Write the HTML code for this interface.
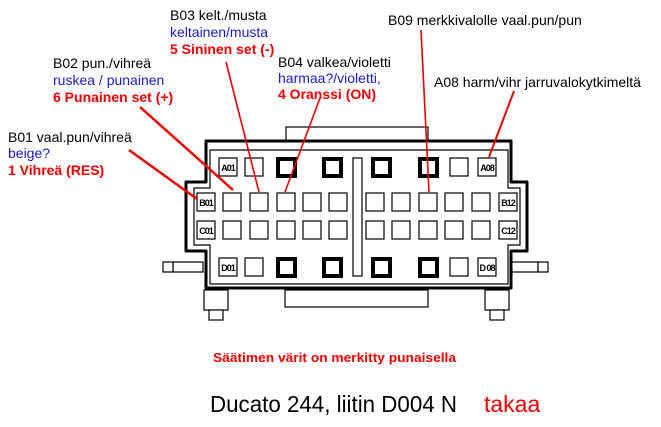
<!DOCTYPE html><html><head><style>body{margin:0;background:#fff}svg{display:block}</style></head><body>
<svg width="661" height="427" xmlns="http://www.w3.org/2000/svg" font-family="Liberation Sans, Arial, sans-serif">
<rect width="661" height="427" fill="#fff"/>
<g fill="#fff" stroke="#000" stroke-width="1.2">
<rect x="286" y="127" width="142" height="16"/>
<rect x="285" y="290" width="143" height="17"/>
<rect x="173" y="262" width="30" height="10"/><rect x="163" y="262" width="10" height="10"/>
<rect x="510" y="262" width="28" height="10"/><rect x="538" y="262" width="10" height="10"/>
<rect x="204" y="290" width="24" height="20"/><rect x="209" y="310" width="14" height="10"/>
<rect x="485" y="290" width="24" height="20"/><rect x="490" y="310" width="14" height="10"/>
</g>
<path d="M206,141 H511 V182 H527 V251 H511 V288 H206 V251 H186 V182 H206 Z" fill="#fff" stroke="#000" stroke-width="3" stroke-linejoin="round"/>
<path d="M210,150 H508 V188 H520 V245 H508 V284 H210 V245 H194 V188 H210 Z" fill="#fff" stroke="#000" stroke-width="1.2"/>
<rect x="353" y="158" width="9" height="118" fill="#fff" stroke="#000" stroke-width="1.2"/>
<g fill="#fff" stroke="#000" stroke-width="1.2">
<rect x="245" y="158" width="18" height="18"/><rect x="450" y="158" width="18" height="18"/>
<rect x="245" y="258" width="18" height="18"/><rect x="450" y="258" width="18" height="18"/>
<rect x="223" y="193" width="18" height="18"/><rect x="250" y="193" width="18" height="18"/><rect x="277" y="193" width="18" height="18"/><rect x="303" y="193" width="18" height="18"/><rect x="329" y="193" width="18" height="18"/>
<rect x="366" y="193" width="18" height="18"/><rect x="392" y="193" width="18" height="18"/><rect x="419" y="193" width="18" height="18"/><rect x="445" y="193" width="18" height="18"/><rect x="472" y="193" width="18" height="18"/>
<rect x="223" y="221" width="18" height="18"/><rect x="250" y="221" width="18" height="18"/><rect x="277" y="221" width="18" height="18"/><rect x="303" y="221" width="18" height="18"/><rect x="329" y="221" width="18" height="18"/>
<rect x="366" y="221" width="18" height="18"/><rect x="392" y="221" width="18" height="18"/><rect x="419" y="221" width="18" height="18"/><rect x="445" y="221" width="18" height="18"/><rect x="472" y="221" width="18" height="18"/>
</g>
<g fill="#fff" stroke="#000" stroke-width="4">
<rect x="278" y="159" width="17" height="17"/><rect x="324" y="159" width="17" height="17"/><rect x="373" y="159" width="17" height="17"/><rect x="420" y="159" width="17" height="17"/>
<rect x="278" y="259" width="17" height="17"/><rect x="324" y="259" width="17" height="17"/><rect x="373" y="259" width="17" height="17"/><rect x="420" y="259" width="17" height="17"/>
</g>
<g fill="#fff" stroke="#000" stroke-width="1.2">
<rect x="219" y="158" width="18" height="18"/><rect x="478" y="158" width="18" height="18"/>
<rect x="197" y="193" width="18" height="18"/><rect x="499" y="193" width="18" height="18"/>
<rect x="197" y="221" width="18" height="18"/><rect x="499" y="221" width="18" height="18"/>
<rect x="219" y="258" width="18" height="18"/><rect x="478" y="258" width="18" height="18"/>
</g>
<g font-size="9" font-weight="bold" text-anchor="middle" letter-spacing="-1">
<text x="228" y="171">A01</text><text x="487" y="171">A08</text>
<text x="206" y="206">B01</text><text x="508" y="206">B12</text>
<text x="206" y="234">C01</text><text x="508" y="234">C12</text>
<text x="228" y="271">D01</text><text x="487" y="271">D 08</text>
</g>
<g stroke="#e00" fill="none">
<line x1="129" y1="150" x2="197" y2="199" stroke-width="2.5"/>
<line x1="140" y1="107" x2="233" y2="190" stroke-width="2.5"/>
<line x1="226" y1="62" x2="259" y2="192" stroke-width="1.6"/>
<line x1="320" y1="98" x2="285" y2="192" stroke-width="1.6"/>
<line x1="421" y1="30" x2="429" y2="192" stroke-width="1.6"/>
<line x1="514" y1="91" x2="489" y2="157" stroke-width="2"/>
</g>
<g font-size="14">
<text x="170" y="20">B03 kelt./musta</text><text x="170" y="37" fill="#1a1acc">keltainen/musta</text><text x="170" y="54" fill="#e00" font-weight="bold">5 Sininen set (-)</text>
<text x="53" y="68">B02 pun./vihreä</text><text x="53" y="85" fill="#1a1acc">ruskea / punainen</text><text x="53" y="102" fill="#e00" font-weight="bold">6 Punainen set (+)</text>
<text x="8" y="142">B01 vaal.pun/vihreä</text><text x="8" y="158" fill="#1a1acc">beige?</text><text x="8" y="175" fill="#e00" font-weight="bold">1 Vihreä (RES)</text>
<text x="278" y="67">B04 valkea/violetti</text><text x="278" y="83" fill="#1a1acc">harmaa?/violetti,</text><text x="278" y="99" fill="#e00" font-weight="bold">4 Oranssi (ON)</text>
<text x="388" y="25">B09 merkkivalolle vaal.pun/pun</text>
<text x="434" y="87">A08 harm/vihr jarruvalokytkimeltä</text>
</g>
<text x="213" y="362" font-size="13" font-weight="bold" fill="#e00" textLength="243" lengthAdjust="spacingAndGlyphs">Säätimen värit on merkitty punaisella</text>
<text x="210" y="412" font-size="23" textLength="247" lengthAdjust="spacingAndGlyphs">Ducato 244, liitin D004 N</text>
<text x="484" y="412" font-size="23" fill="#e00">takaa</text>
</svg></body></html>
